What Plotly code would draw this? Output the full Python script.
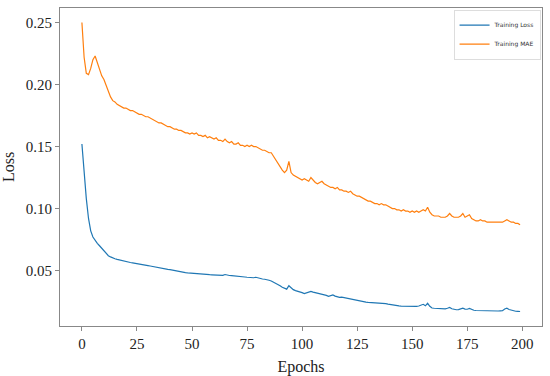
import plotly.graph_objects as go

epochs = list(range(200))

training_mae = [
    0.250, 0.222, 0.209, 0.208, 0.213, 0.220, 0.223, 0.217, 0.211, 0.207,
    0.204, 0.199, 0.195, 0.190, 0.187, 0.186, 0.184, 0.183, 0.182, 0.181,
    0.181, 0.180, 0.179, 0.179, 0.178, 0.177, 0.176, 0.176, 0.175, 0.174,
    0.174, 0.173, 0.172, 0.171, 0.170, 0.169, 0.169, 0.168, 0.167, 0.166,
    0.166, 0.165, 0.164, 0.164, 0.163, 0.163, 0.162, 0.161, 0.161, 0.160,
    0.161, 0.160, 0.161, 0.159, 0.159, 0.158, 0.159, 0.157, 0.158, 0.157,
    0.156, 0.157, 0.155, 0.155, 0.154, 0.156, 0.154, 0.153, 0.154, 0.152,
    0.152, 0.153, 0.151, 0.151, 0.150, 0.151, 0.150, 0.151, 0.150, 0.150,
    0.149, 0.148, 0.147, 0.147, 0.146, 0.145, 0.145, 0.142, 0.139, 0.136,
    0.133, 0.131, 0.129, 0.131, 0.138, 0.129, 0.127, 0.126, 0.125, 0.124,
    0.123, 0.124, 0.123, 0.122, 0.125, 0.123, 0.121, 0.120, 0.121, 0.122,
    0.120, 0.119, 0.118, 0.117, 0.117, 0.116, 0.117, 0.115, 0.115, 0.114,
    0.114, 0.113, 0.114, 0.112, 0.111, 0.110, 0.110, 0.109, 0.108, 0.107,
    0.106, 0.106, 0.105, 0.104, 0.104, 0.103, 0.104, 0.103, 0.103, 0.102,
    0.101, 0.100, 0.100, 0.099, 0.099, 0.098, 0.099, 0.098, 0.098, 0.097,
    0.098, 0.097, 0.098, 0.097, 0.098, 0.099, 0.098, 0.101, 0.097, 0.095,
    0.094, 0.094, 0.094, 0.093, 0.093, 0.093, 0.094, 0.096, 0.094, 0.093,
    0.093, 0.093, 0.094, 0.096, 0.093, 0.094, 0.095, 0.092, 0.091, 0.090,
    0.090, 0.091, 0.090, 0.090, 0.089, 0.089, 0.089, 0.089, 0.089, 0.089,
    0.089, 0.089, 0.090, 0.091, 0.090, 0.089, 0.089, 0.088, 0.088, 0.087,
]

training_loss = [
    0.152, 0.128, 0.108, 0.092, 0.082, 0.077, 0.074, 0.072, 0.070, 0.068,
    0.066, 0.064, 0.062, 0.061, 0.060, 0.0595, 0.059, 0.0585, 0.058, 0.0578,
    0.0575, 0.0570, 0.0565, 0.0562, 0.0558, 0.0555, 0.0552, 0.0548, 0.0545, 0.0542,
    0.0540, 0.0537, 0.0533, 0.0530, 0.0527, 0.0523, 0.0520, 0.0517, 0.0513, 0.0510,
    0.0507, 0.0503, 0.0500, 0.0497, 0.0494, 0.0490, 0.0487, 0.0484, 0.0482, 0.0480,
    0.0478, 0.0476, 0.0475, 0.0473, 0.0472, 0.0470, 0.0469, 0.0468, 0.0467, 0.0466,
    0.0465, 0.0464, 0.0463, 0.0462, 0.0461, 0.0468, 0.0462, 0.0460, 0.0459, 0.0458,
    0.0456, 0.0454, 0.0452, 0.0450, 0.0448, 0.0446, 0.0444, 0.0440, 0.0442, 0.0446,
    0.0440, 0.0436, 0.0432, 0.0430, 0.0428, 0.0422, 0.0416, 0.0408, 0.0398, 0.0388,
    0.0378, 0.0366, 0.0356, 0.0350, 0.0378, 0.0360, 0.0346, 0.0338, 0.0334, 0.0330,
    0.0322, 0.0314, 0.0318, 0.0326, 0.0332, 0.0326, 0.0322, 0.0320, 0.0316, 0.0312,
    0.0308, 0.0300, 0.0292, 0.0298, 0.0304, 0.0294, 0.0288, 0.0284, 0.0286, 0.0282,
    0.0278, 0.0274, 0.0276, 0.0270, 0.0266, 0.0262, 0.0256, 0.0250, 0.0248, 0.0246,
    0.0244, 0.0243, 0.0242, 0.0240, 0.0240, 0.0238, 0.0240, 0.0236, 0.0234, 0.0230,
    0.0226, 0.0222, 0.0220, 0.0218, 0.0215, 0.0214, 0.0213, 0.0212, 0.0211, 0.0210,
    0.0211, 0.0210, 0.0212, 0.0214, 0.0220, 0.0228, 0.0216, 0.0236, 0.0212, 0.0198,
    0.0196, 0.0195, 0.0194, 0.0193, 0.0192, 0.0191, 0.0196, 0.0202, 0.0192, 0.0186,
    0.0184, 0.0185, 0.0188, 0.0196, 0.0189, 0.0188, 0.0194, 0.0184, 0.0180, 0.0178,
    0.0177, 0.0178, 0.0177, 0.0176, 0.0178, 0.0176, 0.0175, 0.0176, 0.0175, 0.0174,
    0.0175, 0.0176, 0.0190, 0.0196, 0.0186, 0.0180, 0.0176, 0.0172, 0.0171, 0.0170,
]

x_ticks = [0, 25, 50, 75, 100, 125, 150, 175, 200]
y_ticks = [0.05, 0.10, 0.15, 0.20, 0.25]
y_tick_labels = ["0.05", "0.10", "0.15", "0.20", "0.25"]

fig = go.Figure()
fig.add_trace(go.Scatter(x=epochs, y=training_loss, mode="lines", name="Training Loss",
                         line=dict(color="#1f77b4", width=1.2)))
fig.add_trace(go.Scatter(x=epochs, y=training_mae, mode="lines", name="Training MAE",
                         line=dict(color="#ff7f0e", width=1.2)))

axis_common = dict(
    showline=True, linecolor="#888888", linewidth=1.2, mirror=True,
    ticks="outside", ticklen=4, tickcolor="#888888", tickwidth=1,
    showgrid=False, zeroline=False, automargin=False,
    tickfont=dict(family="Liberation Serif", size=15, color="#222222"),
)

fig.update_layout(
    width=550, height=376,
    margin=dict(l=60, r=8, t=8, b=50),
    paper_bgcolor="white", plot_bgcolor="white",
    xaxis=dict(range=[-9.95, 208.95], tickvals=x_ticks,
               title=dict(text="Epochs", font=dict(family="Liberation Serif", size=16, color="#222222")),
               **axis_common),
    yaxis=dict(range=[0.0053, 0.2617], tickvals=y_ticks, ticktext=y_tick_labels,
               title=dict(text="Loss", font=dict(family="Liberation Serif", size=16, color="#222222")),
               **axis_common),
    legend=dict(x=0.997, y=0.995, xanchor="right", yanchor="top",
                bgcolor="rgba(255,255,255,0.8)", bordercolor="#dddddd", borderwidth=1,
                font=dict(family="DejaVu Sans", size=6, color="#333333"),
                itemwidth=30, tracegroupgap=0),
    showlegend=True,
)

fig.write_html("out.html", config={"displayModeBar": False},
               post_script="document.body.style.margin='0';document.body.style.overflow='hidden';")
